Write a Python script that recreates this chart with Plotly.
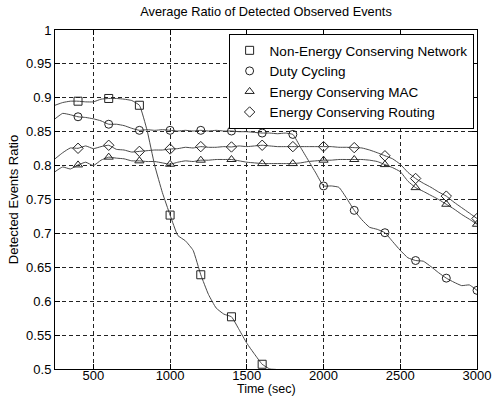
import plotly.graph_objects as go

# Time grid (sec) for the curves; markers drawn every 200 s starting at 400 s
times = list(range(250, 3001, 50))

non_energy = [0.889, 0.893, 0.895, 0.895, 0.894, 0.894, 0.898, 0.899, 0.899, 0.898,
              0.896, 0.889, 0.852, 0.800, 0.760, 0.727, 0.697, 0.689, 0.675, 0.639,
              0.610, 0.590, 0.581, 0.577, 0.558, 0.538, 0.522, 0.507, 0.500, 0.499,
              0.488, 0.475] + [None] * 24

duty_cycling = [0.869, 0.877, 0.875, 0.872, 0.871, 0.869, 0.866, 0.861, 0.861, 0.859,
                0.855, 0.852, 0.853, 0.852, 0.853, 0.852, 0.851, 0.852, 0.851, 0.852,
                0.851, 0.852, 0.851, 0.851, 0.850, 0.850, 0.849, 0.848, 0.848, 0.847,
                0.848, 0.846, 0.827, 0.808, 0.789, 0.770, 0.770, 0.768, 0.752, 0.734,
                0.720, 0.709, 0.706, 0.701, 0.688, 0.675, 0.664, 0.660, 0.659, 0.651,
                0.642, 0.634, 0.628, 0.623, 0.624, 0.616]

mac = [0.791, 0.798, 0.795, 0.801, 0.805, 0.800, 0.808, 0.8125, 0.811, 0.810,
       0.807, 0.807, 0.806, 0.806, 0.804, 0.802, 0.805, 0.807, 0.806, 0.808,
       0.808, 0.809, 0.809, 0.809, 0.807, 0.805, 0.804, 0.803, 0.803, 0.803,
       0.803, 0.803, 0.804, 0.806, 0.807, 0.808, 0.808, 0.809, 0.809, 0.809,
       0.809, 0.808, 0.806, 0.8015, 0.797, 0.791, 0.777, 0.7675, 0.762, 0.756,
       0.750, 0.743, 0.736, 0.728, 0.721, 0.7135]

routing = [0.810, 0.819, 0.826, 0.8255, 0.829, 0.825, 0.828, 0.830, 0.824, 0.823,
           0.820, 0.821, 0.822, 0.823, 0.823, 0.8245, 0.825, 0.827, 0.826, 0.828,
           0.827, 0.827, 0.828, 0.8275, 0.829, 0.828, 0.829, 0.830, 0.829, 0.828,
           0.828, 0.828, 0.828, 0.828, 0.828, 0.828, 0.828, 0.827, 0.827, 0.8265,
           0.826, 0.823, 0.819, 0.8145, 0.810, 0.802, 0.790, 0.781, 0.774, 0.768,
           0.761, 0.755, 0.746, 0.738, 0.730, 0.722]

series_names = ["Non-Energy Conserving Network", "Duty Cycling",
                "Energy Conserving MAC", "Energy Conserving Routing"]
series_values = [non_energy, duty_cycling, mac, routing]
symbols = ["square-open", "circle-open", "triangle-up-open", "diamond-open"]

x_ticks = [500, 1000, 1500, 2000, 2500, 3000]
y_ticks = [0.5, 0.55, 0.6, 0.65, 0.7, 0.75, 0.8, 0.85, 0.9, 0.95, 1]
y_tick_labels = ["0.5", "0.55", "0.6", "0.65", "0.7", "0.75", "0.8", "0.85", "0.9", "0.95", "1"]

marker_idx = [i for i, t in enumerate(times) if t >= 400 and (t - 400) % 200 == 0]

FONT = "Arial, Liberation Sans, Helvetica, sans-serif"
LINE_COLOR = "#4a4a4a"
MARK_COLOR = "#222222"

fig = go.Figure()
for name, vals in zip(series_names, series_values):
    fig.add_trace(go.Scatter(x=times, y=vals, mode="lines", showlegend=False,
                             line=dict(color=LINE_COLOR, width=1, shape="spline", smoothing=0.4),
                             hoverinfo="skip"))
for name, vals, sym in zip(series_names, series_values, symbols):
    mx = [times[i] for i in marker_idx if vals[i] is not None]
    my = [vals[i] for i in marker_idx if vals[i] is not None]
    fig.add_trace(go.Scatter(x=mx, y=my, mode="markers", name=name,
                             marker=dict(symbol=sym, size=8, color=MARK_COLOR,
                                         line=dict(color=MARK_COLOR, width=1))))

axis_common = dict(showline=True, linecolor="#000", linewidth=1, mirror="ticks",
                   ticks="inside", ticklen=5, tickcolor="#000", automargin=False,
                   showgrid=True, gridcolor="#222", gridwidth=1, griddash="4px,3px",
                   zeroline=False, tickfont=dict(family=FONT, size=13, color="#000"))

fig.update_layout(
    width=494, height=397,
    margin=dict(l=55, r=17, t=30, b=28),
    paper_bgcolor="white", plot_bgcolor="white",
    font=dict(family=FONT, size=13, color="#000"),
    title=dict(text="Average Ratio of Detected Observed Events", x=(55 + 477) / 2 / 494,
               xanchor="center", y=1 - 12 / 397, yanchor="middle",
               font=dict(family=FONT, size=12.8, color="#000")),
    xaxis=dict(range=[250, 3000], tickvals=x_ticks, ticklabelstandoff=-6,
               **axis_common),
    yaxis=dict(range=[0.5, 1], tickvals=y_ticks, ticktext=y_tick_labels,
               title=dict(text="Detected Events Ratio", standoff=4, font=dict(family=FONT, size=13)),
               **axis_common),
    legend=dict(x=0.992, y=0.988, xanchor="right", yanchor="top",
                bgcolor="white", bordercolor="#000", borderwidth=1,
                font=dict(family=FONT, size=13.5, color="#000"),
                tracegroupgap=0, itemsizing="trace"),
    annotations=[dict(text="Time (sec)", xref="paper", yref="paper", x=0.5,
                      y=-(389.5 - 369) / 339, xanchor="center", yanchor="middle",
                      showarrow=False, font=dict(family=FONT, size=12.5, color="#000"))],
    showlegend=True,
)

fig.write_html("out.html")
